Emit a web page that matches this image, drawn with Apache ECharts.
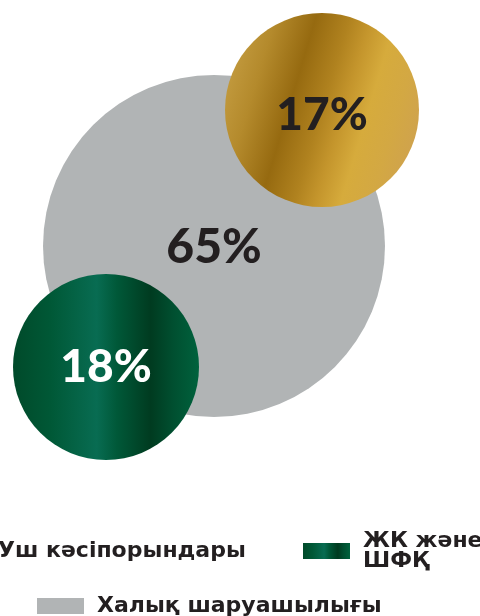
<!DOCTYPE html>
<html>
<head>
<meta charset="utf-8">
<script src="https://cdn.jsdelivr.net/npm/echarts@6/dist/echarts.min.js"></script>
<style>html,body{margin:0;padding:0;background:#fff;}#c{width:480px;height:616px;}</style>
</head>
<body>
<div id="c"></div>
<script>
// ---- data ----
const categories = ['Уш кәсіпорындары', 'ЖК және ШФҚ', 'Халық шаруашылығы'];
const shares = [17, 18, 65];
const shareLabels = ['17%', '18%', '65%'];

// ---- layout (pixel-space positions / diameters of bubbles) ----
const bubbleCenters = [[322, 110], [106, 367], [214, 246]];
const bubbleDiameters = [194, 186, 342];
const labelOffsets = [[0, 5], [0, 0], [0, 2]];

// ---- styles ----
const gold = {
  type: 'linear', x: 0, y: 0.35, x2: 1, y2: 0.65,
  colorStops: [
    {offset: 0, color: '#c29a3e'}, {offset: 0.15, color: '#b48a2c'},
    {offset: 0.34, color: '#966a10'}, {offset: 0.5, color: '#b0821f'},
    {offset: 0.6, color: '#c4952c'}, {offset: 0.72, color: '#d6ab3c'},
    {offset: 0.86, color: '#d3a843'}, {offset: 1, color: '#cfa24e'}
  ]
};
const green = {
  type: 'linear', x: 0, y: 0, x2: 1, y2: 0,
  colorStops: [
    {offset: 0, color: '#004a2a'}, {offset: 0.2, color: '#005836'},
    {offset: 0.45, color: '#086c52'}, {offset: 0.56, color: '#005838'},
    {offset: 0.74, color: '#003b20'}, {offset: 0.86, color: '#004f30'},
    {offset: 1, color: '#00623d'}
  ]
};
const colors = [gold, green, '#b1b4b5'];
const labelColors = ['#231f20', '#ffffff', '#231f20'];
const labelSizes = [46, 46, 48];

const order = [2, 0, 1];
const series = order.map(i => ({
  type: 'scatter',
  name: categories[i],
  symbol: 'circle',
  symbolSize: bubbleDiameters[i],
  data: [[bubbleCenters[i][0], bubbleCenters[i][1], shares[i]]],
  itemStyle: {color: colors[i], opacity: 1},
  label: {
    show: true, position: 'inside', offset: labelOffsets[i],
    formatter: shareLabels[i],
    fontFamily: 'Lato', fontWeight: 900, fontSize: labelSizes[i],
    color: labelColors[i]
  },
  emphasis: {disabled: true},
  z: order.indexOf(i) + 2
}));

const legendText = {fontFamily: 'DejaVu Sans', fontWeight: 'bold', fontSize: 22, color: '#231f20', padding: [0, 0, 0, 8]};

const option = {
  animation: false,
  grid: {left: 0, top: 0, right: 0, bottom: 0},
  xAxis: {type: 'value', min: 0, max: 480, show: false},
  yAxis: {type: 'value', min: 0, max: 616, inverse: true, show: false},
  legend: [
    {data: [categories[0]], left: -62, top: 540, padding: 0, icon: 'rect', itemWidth: 47, itemHeight: 16,
     textStyle: legendText, selectedMode: false},
    {data: [categories[1]], left: 303, top: 521, padding: 0, icon: 'rect', itemWidth: 47, itemHeight: 16,
     formatter: n => n.replace(' ШФҚ', '\nШФҚ'),
     textStyle: Object.assign({}, legendText, {lineHeight: 20, padding: [20, 0, 0, 8]}), selectedMode: false},
    {data: [categories[2]], left: 37, top: 595, padding: 0, icon: 'rect', itemWidth: 47, itemHeight: 16,
     textStyle: legendText, selectedMode: false}
  ],
  series: series
};
echarts.init(document.getElementById('c')).setOption(option);
</script>
</body>
</html>
